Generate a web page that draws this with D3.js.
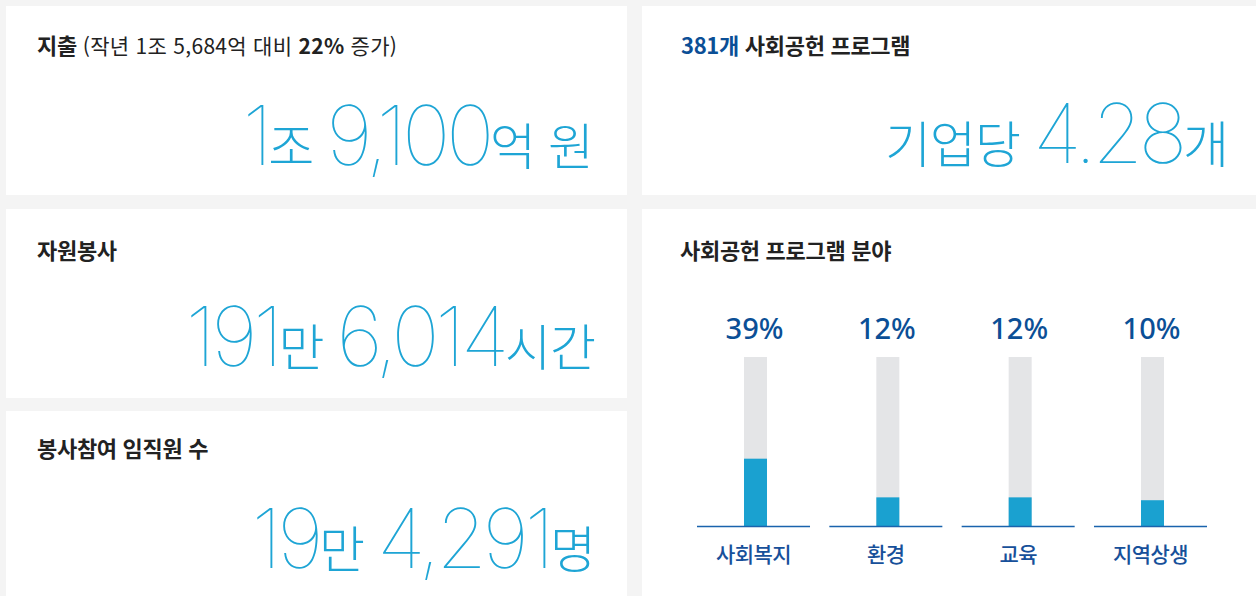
<!DOCTYPE html>
<html lang="ko">
<head>
<meta charset="utf-8">
<script src="https://cdn.jsdelivr.net/npm/d3@7"></script>
<style>
  html, body { margin: 0; padding: 0; background: #f4f4f4; }
  svg { display: block; }
  .title { font-family: "Noto Sans CJK KR", sans-serif; font-size: 22px; font-weight: 700; fill: #222; letter-spacing: -0.3px; }
  .big { font-family: "Inter", "Noto Sans", sans-serif; font-weight: 100; fill: #1ea5d5; font-variant-numeric: proportional-nums; font-feature-settings: "pnum" 1, "tnum" 0; }
  .unit { font-family: "Noto Sans CJK KR", sans-serif; font-weight: 300; }
  .pct { font-family: "Noto Sans", sans-serif; font-size: 29px; font-weight: 500; fill: #0b4f96; }
  .cat { font-family: "Noto Sans CJK KR", sans-serif; font-size: 21px; font-weight: 500; fill: #17509a; }
</style>
</head>
<body>
<div id="chart"></div>
<script>
// headline figures, one per card
const cardTitles = [`지출`, `381개 사회공헌 프로그램`, `자원봉사`, `봉사참여 임직원 수`, `사회공헌 프로그램 분야`];
const spendNote = [`(작년 1조 5,684억 대비 `, `22%`, ` 증가)`];
const bigFigures = [`1조 9,100억 원`, `기업당 4.28개`, `191만 6,014시간`, `19만 4,291명`];

// program fields
const fields = [`사회복지`, `환경`, `교육`, `지역상생`];
const shares = [39, 12, 12, 10];

const W = 1256, H = 596;

const svg = d3.select(`#chart`).append(`svg`)
    .attr(`width`, W)
    .attr(`height`, H);

// card boxes
const boxes = [
  { x: 6, y: 6, w: 621, h: 189 },
  { x: 642, y: 6, w: 620, h: 189 },
  { x: 6, y: 209, w: 621, h: 189 },
  { x: 6, y: 411, w: 621, h: 200 },
  { x: 642, y: 209, w: 620, h: 400 }
];

svg.selectAll(`rect.card`)
    .data(boxes)
  .enter().append(`rect`)
    .attr(`class`, `card`)
    .attr(`x`, (d) => d.x)
    .attr(`y`, (d) => d.y)
    .attr(`width`, (d) => d.w)
    .attr(`height`, (d) => d.h)
    .attr(`fill`, `#fff`);

// titles
const titlePos = [
  { x: 37, y: 54 },
  { x: 681, y: 54 },
  { x: 37, y: 259 },
  { x: 37, y: 457 },
  { x: 680, y: 259 }
];

cardTitles.forEach((t, i) => {
  const text = svg.append(`text`)
      .attr(`class`, `title`)
      .attr(`x`, titlePos[i].x)
      .attr(`y`, titlePos[i].y);

  if (i === 0) {
    text.append(`tspan`).text(t + ` `);
    spendNote.forEach((s, j) => {
      text.append(`tspan`)
          .attr(`font-weight`, j === 1 ? 700 : 400)
          .attr(`font-size`, 21)
          .attr(`letter-spacing`, 0.3)
          .text(s);
    });
  } else if (i === 1) {
    const [count, ...rest] = t.split(` `);
    text.append(`tspan`).attr(`fill`, `#0b4f96`).text(count + ` `);
    text.append(`tspan`).text(rest.join(` `));
  } else {
    text.text(t);
  }
});

// big numbers, digits large and units smaller
const bigPos = [
  { x: 593, y: 165 },
  { x: 1228, y: 163 },
  { x: 595, y: 366 },
  { x: 595, y: 568 }
];

bigFigures.forEach((f, i) => {
  const text = svg.append(`text`)
      .attr(`class`, `big`)
      .attr(`x`, bigPos[i].x)
      .attr(`y`, bigPos[i].y)
      .attr(`text-anchor`, `end`);

  f.split(/([0-9.,]+)/).filter((s) => s.length).forEach((s) => {
    const isNum = /[0-9]/.test(s);
    text.append(`tspan`)
        .attr(`class`, isNum ? null : `unit`)
        .attr(`font-size`, isNum ? 82 : 50)
        .attr(`letter-spacing`, isNum ? -4.5 : -1)
        .text(s);
  });
});

// program field bars
const x = d3.scaleBand()
    .domain(fields)
    .range([697, 1207])
    .paddingInner(0.146);

const y = d3.scaleLinear()
    .domain([-8, 110])
    .range([0, 169]);

const baseY = 526;
const trackTop = 357;
const barW = 23;

const g = svg.append(`g`);

const col = g.selectAll(`g.field`)
    .data(fields.map((f, i) => ({ field: f, share: shares[i] })))
  .enter().append(`g`)
    .attr(`class`, `field`)
    .attr(`transform`, (d) => `translate(${x(d.field) + x.bandwidth() / 2},0)`);

col.append(`rect`)
    .attr(`x`, -barW / 2 + 2)
    .attr(`y`, trackTop)
    .attr(`width`, barW)
    .attr(`height`, baseY - trackTop)
    .attr(`fill`, `#e4e5e7`);

col.append(`rect`)
    .attr(`x`, -barW / 2 + 2)
    .attr(`y`, (d) => baseY - y(d.share))
    .attr(`width`, barW)
    .attr(`height`, (d) => y(d.share))
    .attr(`fill`, `#1aa1d0`);

col.append(`line`)
    .attr(`x1`, -x.bandwidth() / 2)
    .attr(`x2`, x.bandwidth() / 2)
    .attr(`y1`, baseY + 0.5)
    .attr(`y2`, baseY + 0.5)
    .attr(`stroke`, `#1a63ad`)
    .attr(`stroke-width`, 1.5);

col.append(`text`)
    .attr(`class`, `pct`)
    .attr(`x`, 1)
    .attr(`y`, 339)
    .attr(`text-anchor`, `middle`)
    .text((d) => `${d.share}%`);

col.append(`text`)
    .attr(`class`, `cat`)
    .attr(`y`, 562)
    .attr(`text-anchor`, `middle`)
    .attr(`letter-spacing`, -0.6)
    .text((d) => d.field);
</script>
</body>
</html>
